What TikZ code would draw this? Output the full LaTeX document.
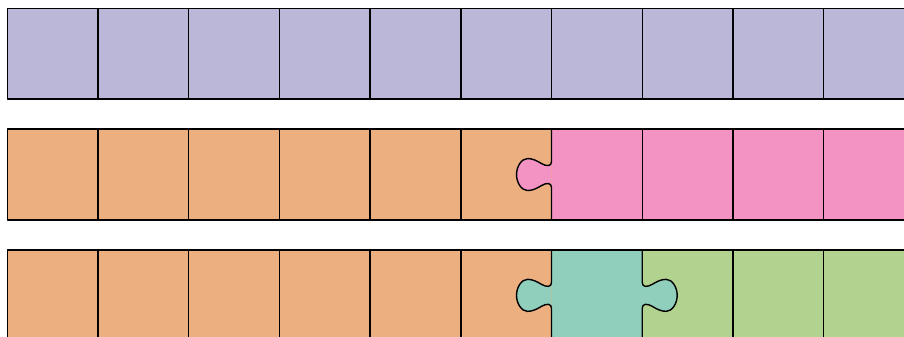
\documentclass[tikz,border=0pt]{standalone}
\usepackage{tikz}
\definecolor{lav}{RGB}{187,183,217}
\definecolor{org}{RGB}{235,175,128}
\definecolor{pnk}{RGB}{243,147,196}
\definecolor{teal2}{RGB}{143,207,187}
\definecolor{grn}{RGB}{178,211,143}
\tikzset{edge/.style={draw=black,line width=0.4pt,line join=round}}
\def\tabshape{(0,-13) .. controls (0,-8) and (5,-8) .. (10,-11) .. controls (15,-14) and (19,-16) .. (24,-16) .. controls (30,-16) and (35,-8) .. (35,0) .. controls (35,8) and (30,16) .. (24,16) .. controls (19,16) and (15,14) .. (10,11) .. controls (5,8) and (0,8) .. (0,13)}
\begin{document}
\begin{tikzpicture}[x=0.01cm,y=-0.01cm]
\useasboundingbox (0,0) rectangle (904,337);
\clip (0,0) rectangle (904,337);
\def\L{7.3}\def\W{90.7}
% row 1
\fill[lav] (\L,8.5) rectangle (914,99.2);
\draw[edge] (\L,8.5) rectangle (914,99.2);
\foreach \i in {1,...,9} \draw[edge] ({\L+\i*\W},8.5) -- ({\L+\i*\W},99.2);
% row 2
\fill[org] (\L,129.2) rectangle (551.5,219.9);
\fill[pnk] (551.5,129.2) rectangle (914,219.9);
\begin{scope}[shift={(551.5,174.55)},xscale=-1]
\fill[pnk] \tabshape -- cycle;
\end{scope}
\draw[edge] (\L,129.2) rectangle (914,219.9);
\foreach \i in {1,...,5,7,8,9} \draw[edge] ({\L+\i*\W},129.2) -- ({\L+\i*\W},219.9);
\begin{scope}[shift={(551.5,174.55)},xscale=-1]
\draw[edge] (0,-45.35) -- \tabshape -- (0,45.35);
\end{scope}
% row 3
\fill[org] (\L,250) rectangle (551.5,340.7);
\fill[teal2] (551.5,250) rectangle (642.2,340.7);
\fill[grn] (642.2,250) rectangle (914,340.7);
\begin{scope}[shift={(551.5,295.35)},xscale=-1]
\fill[teal2] \tabshape -- cycle;
\end{scope}
\begin{scope}[shift={(642.2,295.35)}]
\fill[teal2] \tabshape -- cycle;
\end{scope}
\draw[edge] (\L,250) rectangle (914,340.7);
\foreach \i in {1,...,5,8,9} \draw[edge] ({\L+\i*\W},250) -- ({\L+\i*\W},340.7);
\begin{scope}[shift={(551.5,295.35)},xscale=-1]
\draw[edge] (0,-45.35) -- \tabshape -- (0,45.35);
\end{scope}
\begin{scope}[shift={(642.2,295.35)}]
\draw[edge] (0,-45.35) -- \tabshape -- (0,45.35);
\end{scope}
\end{tikzpicture}
\end{document}
